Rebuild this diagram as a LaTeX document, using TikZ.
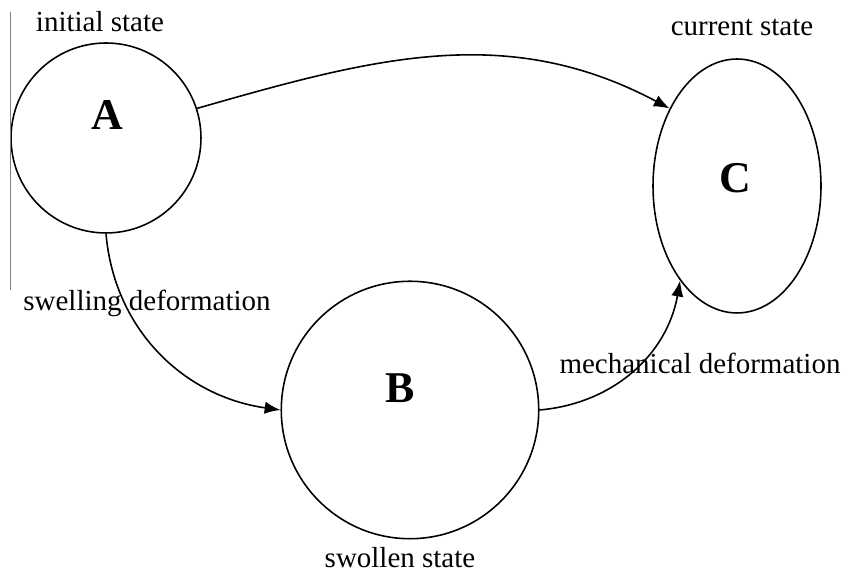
\documentclass[tikz,border=0pt]{standalone}
\usepackage{fontspec}
\setmainfont{Liberation Serif}
\usetikzlibrary{arrows.meta,shapes.geometric}

\begin{document}
\begin{tikzpicture}[x=0.02cm,y=0.02cm,
    state/.style={draw,line width=0.9pt,inner sep=0pt},
    letter/.style={font=\fontsize{25}{28}\selectfont\bfseries},
    caption/.style={font=\fontsize{16.5}{19}\selectfont},
    flow/.style={line width=0.9pt,-{Latex[length=9pt,width=7pt]}}]
    \useasboundingbox (0,0) rectangle (845,573);
    % the three states
    \node[state,circle,minimum size=3.8cm] (A) at (106,435) {};
    \node[state,circle,minimum size=5.15cm] (B) at (410,163) {};
    \node[state,ellipse,minimum width=3.36cm,minimum height=5.08cm] (C) at (737,387) {};
    \node[letter] (a) at (107,458) {A};
    \node[letter] (b) at (400,185) {B};
    \node[letter] (c) at (735,395) {C};
    \node[caption] (initial) at (100,551) {initial state};
    \node[caption] (current) at (742,546) {current state};
    \node[caption] (swollen) at (400,15) {swollen state};
    \node[caption] (swelling) at (147,270) {swelling deformation};
    \node[caption] (mechanical) at (700,210) {mechanical deformation};
    \draw[gray] (10,561) -- (10,283);
    % deformations
    \draw[flow] (A.18) to[out=16,in=152] (C.131);
    \draw[flow] (A.south) to[out=-85,in=172] (B.west);
    \draw[flow] (B.east) to[out=5,in=-100] (C.239);
\end{tikzpicture}
\end{document}
